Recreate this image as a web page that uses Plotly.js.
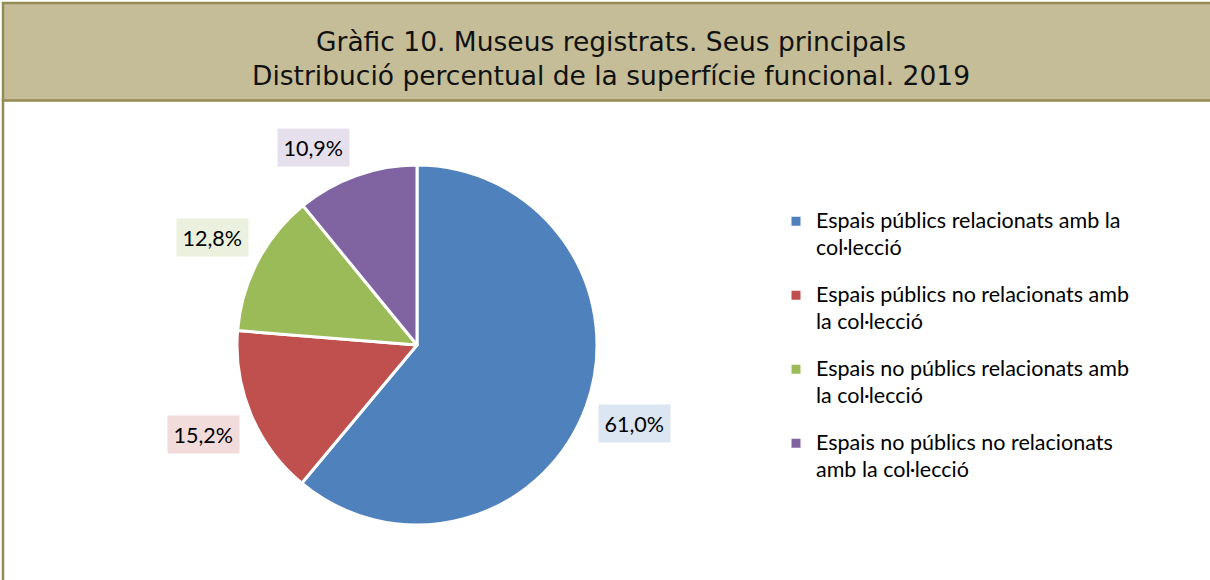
<!DOCTYPE html>
<html>
<head>
<meta charset="utf-8">
<script src="https://cdn.plot.ly/plotly-3.0.1.min.js"></script>
<style>html,body{margin:0;padding:0;background:#fff;}#chart{width:1210px;height:580px;}</style>
</head>
<body>
<div id="chart"></div>
<script>
// ---- data ----
var categories = [
  "Espais públics relacionats amb la<br>col·lecció",
  "Espais públics no relacionats amb<br>la col·lecció",
  "Espais no públics relacionats amb<br>la col·lecció",
  "Espais no públics no relacionats<br>amb la col·lecció"
];
var values = [61.0, 15.2, 12.8, 10.9];
var valueLabels = ["61,0%", "15,2%", "12,8%", "10,9%"];
var titleLines = ["Gràfic 10. Museus registrats. Seus principals", "Distribució percentual de la superfície funcional. 2019"];

// ---- style ----
var W = 1210, H = 580;
var sliceColors = ["#4F81BD", "#C0504D", "#9BBB59", "#8064A2"];
var labelBg = ["#DCE6F2", "#F2DCDB", "#EBF1DE", "#E6E0EC"];
var labelAngleNudge = [0, 0, 0, -8]; // degrees, label placement tweak
var pie = {cx: 417, cy: 345, r: 180};
var labelBox = {hw: 37, hh: 18, gap: 10};
var textFont = "Lato, 'Open Sans', sans-serif";
var labelFont = {family: textFont, size: 21.5, color: "#000"};
var legendTextSize = 21.5; // px, drawn size of legend text
var legendLineSize = 18.2; // controls legend line spacing
var secondLineShift = -3; // px, extra drop for the wrapped line

function px(x) { return x / W; }
function py(y) { return 1 - y / H; }

var total = values.reduce(function (a, b) { return a + b; }, 0);
var annotations = [];
var cum = 0;
for (var i = 0; i < values.length; i++) {
  var mid = (cum + values[i] / 2) / total * 2 * Math.PI + labelAngleNudge[i] * Math.PI / 180;
  cum += values[i];
  var dx = Math.sin(mid), dy = -Math.cos(mid);
  var ext = Math.abs(dx) * labelBox.hw + Math.abs(dy) * labelBox.hh;
  var d = pie.r + labelBox.gap + ext;
  annotations.push({
    x: px(pie.cx + dx * d), y: py(pie.cy + dy * d),
    xref: "paper", yref: "paper", xanchor: "center", yanchor: "middle",
    text: valueLabels[i], showarrow: false,
    bgcolor: labelBg[i], borderpad: 5.5, font: labelFont
  });
}

var legendLabels = categories.map(function (c) {
  return c.split("<br>").map(function (s, k) {
    var st = "font-size:" + legendTextSize + "px" + (k > 0 ? ";baseline-shift:" + secondLineShift + "px" : "");
    return '<span style="' + st + '">' + s + '</span>';
  }).join("<br>") + "<br>&nbsp;";
});

var trace = {
  type: "pie",
  labels: legendLabels,
  values: values,
  sort: false,
  direction: "clockwise",
  rotation: 0,
  textinfo: "none",
  hoverinfo: "none",
  marker: {colors: sliceColors, line: {color: "#FFFFFF", width: 3}},
  domain: {x: [px(pie.cx - pie.r), px(pie.cx + pie.r)], y: [py(pie.cy + pie.r), py(pie.cy - pie.r)]}
};

var layout = {
  width: W, height: H,
  margin: {l: 0, r: 0, t: 0, b: 0},
  paper_bgcolor: "#FFFFFF",
  showlegend: true,
  title: {
    text: titleLines.join("<br>"),
    x: px(611), xanchor: "center", y: py(51), yanchor: "middle",
    font: {family: "'DejaVu Sans', Verdana, sans-serif", size: 26.5, color: "#111"}
  },
  legend: {
    x: px(776), xanchor: "left", y: py(203), yanchor: "top",
    valign: "top", bgcolor: "rgba(0,0,0,0)", borderwidth: 0,
    font: {family: textFont, size: legendLineSize, color: "#000"}
  },
  shapes: [
    {type: "rect", xref: "paper", yref: "paper", x0: px(3), x1: px(1220), y0: py(3), y1: py(100.5),
     fillcolor: "#C4BD97", line: {color: "#948A54", width: 2.5}, layer: "below"},
    {type: "line", xref: "paper", yref: "paper", x0: px(3), x1: px(3), y0: py(100), y1: py(585),
     line: {color: "#948A54", width: 2.5}}
  ],
  annotations: annotations
};

Plotly.newPlot("chart", [trace], layout, {displayModeBar: false, staticPlot: true});
</script>
</body>
</html>
